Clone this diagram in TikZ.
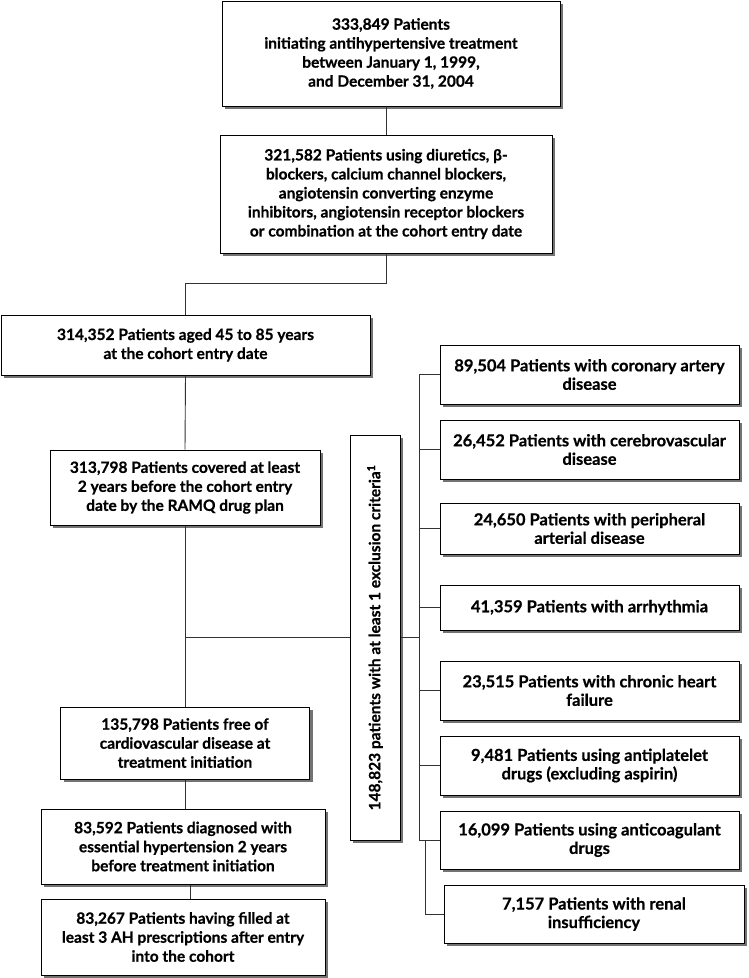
\documentclass[tikz,border=0pt]{standalone}
\usepackage{fontspec}
\setmainfont{Lato}[BoldFeatures={FakeBold=0.6}]
\usetikzlibrary{shadows, positioning}
\tikzset{
    boxP/.style={draw, line width=1pt, fill=white, align=center, inner sep=2pt,
        font=\bfseries\fontsize{15.5}{19}\selectfont,
        drop shadow={shadow xshift=3pt, shadow yshift=-3pt, fill=black!55, opacity=1}},
    boxR/.style={boxP, minimum width=299pt, minimum height=59pt,
        font=\bfseries\fontsize{16.5}{18.5}\selectfont},
    link/.style={draw=black!80, line width=0.9pt}
}

\begin{document}
\begin{tikzpicture}[x=1pt, y=-1pt]
    \useasboundingbox (0,0) rectangle (748,978);
    % main column
    \node[boxP, minimum width=338pt, minimum height=105pt] (b1) at (391,53.5)
        {333,849 Patients\\ initiating antihypertensive treatment\\ between January 1, 1999,\\ and December 31, 2004};
    \node[boxP, minimum width=332pt, minimum height=118pt] (b2) at (386,194)
        {321,582 Patients using diuretics, β-\\ blockers, calcium channel blockers,\\ angiotensin converting enzyme\\ inhibitors, angiotensin receptor blockers\\ or combination at the cohort entry date};
    \node[boxP, minimum width=369pt, minimum height=60pt] (b3) at (185.5,345)
        {314,352 Patients aged 45 to 85 years\\ at the cohort entry date};
    \node[boxP, minimum width=270pt, minimum height=75pt] (b4) at (185,487.5)
        {313,798 Patients covered at least\\ 2 years before the cohort entry\\ date by the RAMQ drug plan};
    \node[boxP, minimum width=249pt, minimum height=72pt] (b5) at (185,743)
        {135,798 Patients free of\\ cardiovascular disease at\\ treatment initiation};
    \node[boxP, minimum width=284pt, minimum height=75pt] (b6) at (183,846.5)
        {83,592 Patients diagnosed with\\ essential hypertension 2 years\\ before treatment initiation};
    \node[boxP, minimum width=284pt, minimum height=76pt] (b7) at (183,937)
        {83,267 Patients having filled at\\ least 3 AH prescriptions after entry\\ into the cohort};
    % exclusions
    \node[boxP, minimum width=50pt, minimum height=405pt, inner sep=0pt] (ex) at (375,637.5)
        {\rotatebox{90}{148,823 patients with at least 1 exclusion criteria\textsuperscript{1}}};
    \node[boxR] (r1) at (589.5,374.5) {89,504 Patients with coronary artery\\ disease};
    \node[boxR] (r2) at (589.5,449.5) {26,452 Patients with cerebrovascular\\ disease};
    \node[boxR, minimum height=51pt] (r3) at (589.5,528.5) {24,650 Patients with peripheral\\ arterial disease};
    \node[boxR, minimum height=45pt] (r4) at (589.5,607.5) {41,359 Patients with arrhythmia};
    \node[boxR] (r5) at (589.5,690.5) {23,515 Patients with chronic heart\\ failure};
    \node[boxR] (r6) at (589.5,765.5) {9,481 Patients using antiplatelet\\ drugs (excluding aspirin)};
    \node[boxR, minimum height=58pt] (r7) at (589.5,840) {16,099 Patients using anticoagulant\\ drugs};
    \node[boxR, minimum width=300pt, minimum height=58pt] (r8) at (594,914) {7,157 Patients with renal\\ insufficiency};
    \coordinate (spT) at (419,374.5);
    \coordinate (spB) at (419,840);
    \coordinate (spR) at (425,840);
    \coordinate (jn) at (b4.south |- ex.west);
    % connectors
    \draw[link] (b1.south -| b2.north) -- (b2.north);
    \draw[link] (b2.south) -- ++(0,30) -| (b3.north);
    \draw[link] (b3.south) -- (b4.north);
    \draw[link] (b4.south) -- (b5.north);
    \draw[link] (jn) -- (ex.west);
    \draw[link] (ex.east) -- (ex.east -| spT);
    \draw[link] (spT) -- (spB);
    \foreach \n in {r1,r2,r3,r4,r5,r6,r7}
        \draw[link] (\n.west) -- (\n.west -| spT);
    \draw[link] (spR) |- (r8.west);
    \draw[link] (b5.south) -- (b5.south |- b6.north);
    \draw[link] ([xshift=7pt]b6.south) -- ([xshift=7pt]b7.north);
\end{tikzpicture}
\end{document}
